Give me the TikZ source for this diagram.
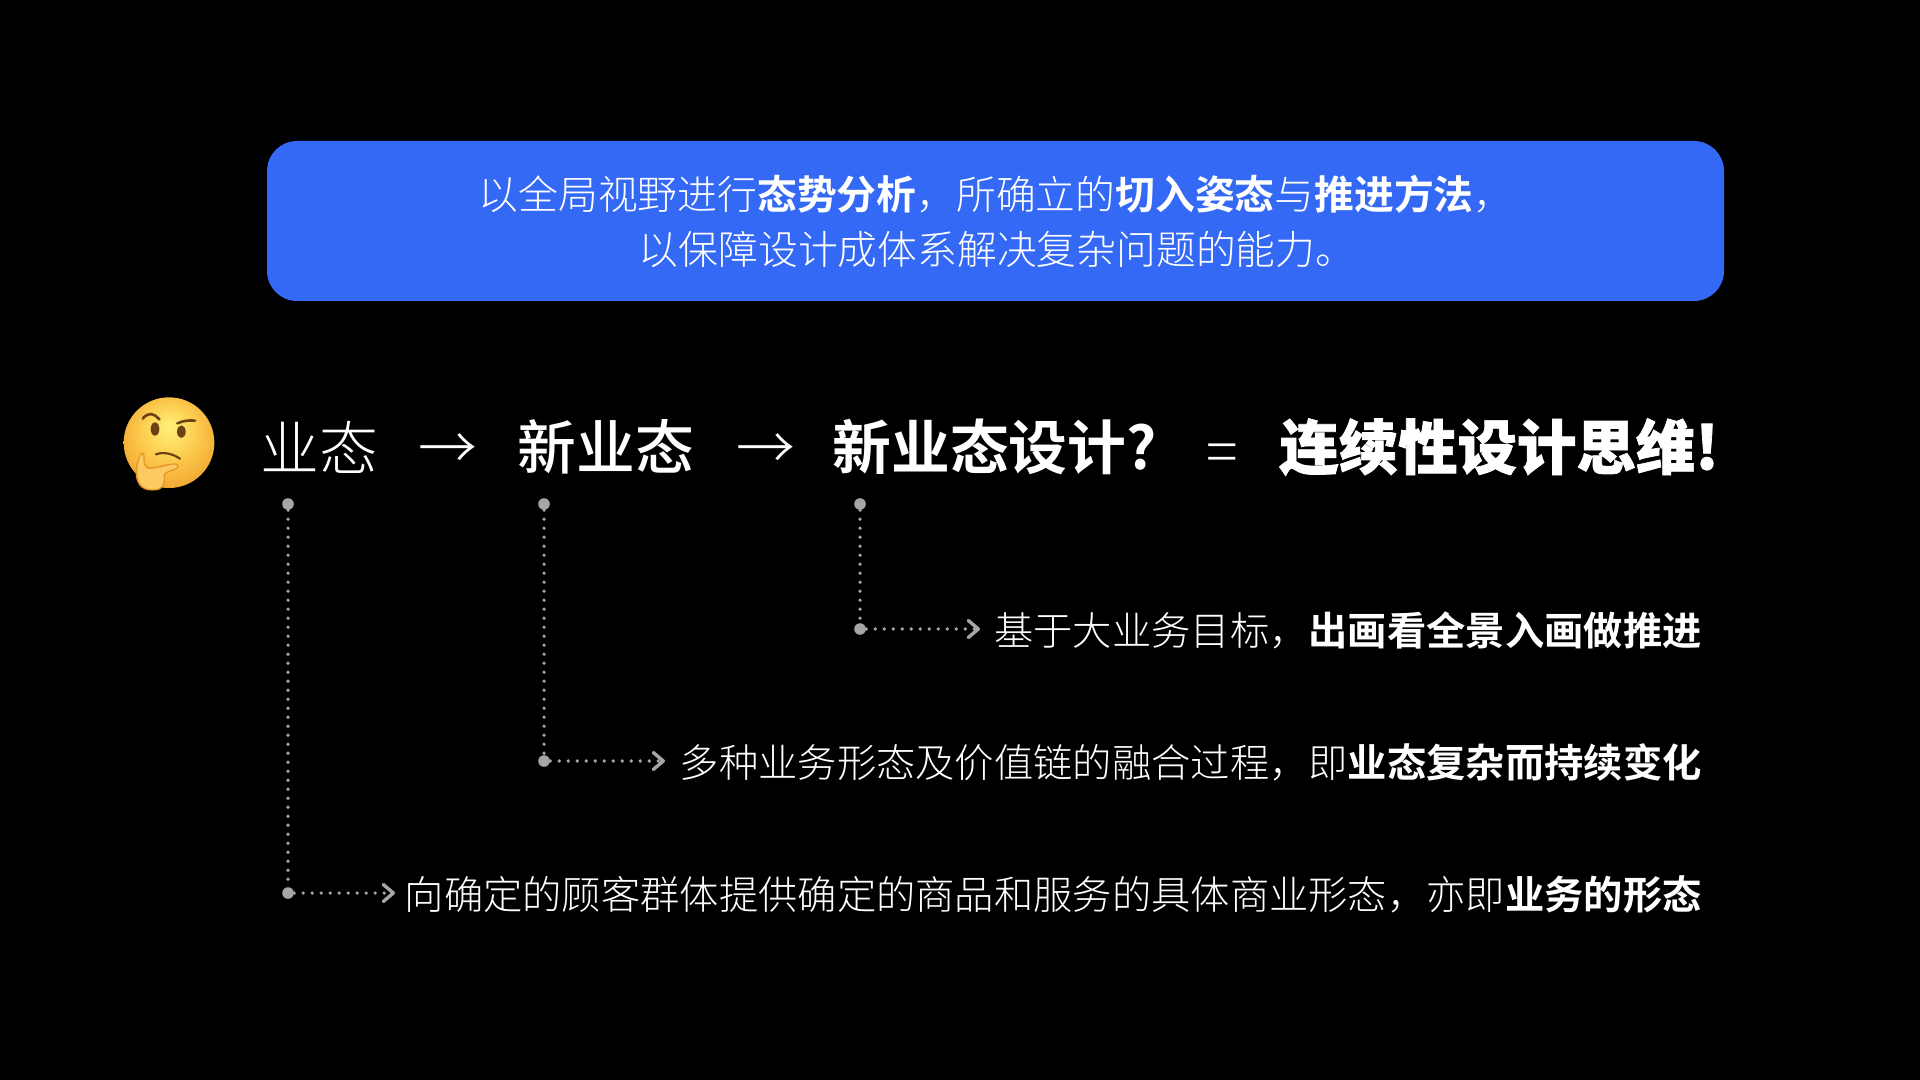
\documentclass[tikz,border=0pt]{standalone}
\usepackage{xcolor}
\usepackage{fontspec}
\usepackage{tikz}
\usetikzlibrary{positioning,arrows.meta,calc}
\setmainfont{Noto Sans CJK SC}[UprightFont=* Light,BoldFont=* Bold]
\newfontfamily\heavyfont{Noto Sans CJK SC Black}[FakeBold=1.2]
\newfontfamily\mediumfont{Noto Sans CJK SC Medium}
\definecolor{panel}{HTML}{3469F5}
\definecolor{leader}{HTML}{A6A6A6}
\definecolor{facehi}{HTML}{FFF27A}
\definecolor{facemid}{HTML}{FCCF52}
\definecolor{facelow}{HTML}{F6B63C}
\definecolor{faceedge}{HTML}{E8962A}
\definecolor{facedark}{HTML}{6B4216}
\definecolor{handc}{HTML}{FBCB62}
\pgfdeclareradialshading{emojiface}{\pgfpoint{0bp}{9bp}}{color(0bp)=(facehi); color(14bp)=(facemid); color(24bp)=(facelow); color(34bp)=(faceedge); color(50bp)=(faceedge)}
\tikzset{
  bullet/.style={circle,fill=leader,inner sep=0pt,minimum size=5.8pt},
  dotline/.style={leader,line width=1.8pt,line cap=round,dash pattern=on 0pt off 4.5pt},
  tipline/.style={dotline,-{Straight Barb[length=5pt,width=8.5pt,line width=1.7pt,round=false]}},
  boxtext/.style={text=white,font=\fontsize{19.9pt}{24pt}\selectfont,inner sep=0pt},
  rowtext/.style={text=white,font=\fontsize{29.4pt}{35pt}\selectfont,inner sep=0pt,anchor=west},
  subtext/.style={text=white,font=\fontsize{19.65pt}{24pt}\selectfont,inner sep=0pt,anchor=east},
}
\newcommand{\leadto}[5]{%
  \node[bullet] (#1top) at (#2,504) {};
  \node[bullet] (#1low) at (#2,#3) {};
  \coordinate (#1tip) at (#4,#3);
  \node[subtext] (#1text) at (1702,#3+1.5) {#5};
  \draw[dotline] (#1top) -- (#1low);
  \draw[tipline] (#1low) -- (#1tip);
}
\begin{document}
\begin{tikzpicture}[x=0.5pt,y=-0.5pt]
  \fill[black] (0,0) rectangle (1920,1080);
  \useasboundingbox (0,0) rectangle (1920,1080);
  % top panel
  \fill[panel,rounded corners=15pt] (267,141) rectangle (1724,301);
  \node[boxtext] (boxone) at (996,194) {以全局视野进行\textbf{态势分析}，所确立的\textbf{切入姿态}与\textbf{推进方法}，};
  \node[boxtext] (boxtwo) at (997,249) {以保障设计成体系解决复杂问题的能力。};
  % thinking face
  \begin{scope}[shift={(100,380)},x=0.1667pt,y=-0.1667pt]
    \path[shading=emojiface] (207,188) circle (136);
    \draw[facedark,line width=1.3pt,line cap=round] (128,116) .. controls (145,96) and (160,98) .. (178,118);
    \draw[facedark,line width=1.3pt,line cap=round] (232,130) .. controls (250,122) and (268,120) .. (285,122);
    \fill[facedark] (165,147) ellipse (13 and 20);
    \fill[facedark] (244,155) ellipse (13 and 19);
    \draw[facedark,line width=1.1pt,line cap=round] (168,223) .. controls (190,214) and (220,222) .. (240,236);
    \fill[faceedge] (108,290) .. controls (104,265) and (112,240) .. (122,220) .. controls (128,214) and (136,220) .. (134,232) .. controls (132,245) and (136,258) .. (146,262) .. controls (170,262) and (200,250) .. (228,250) .. controls (242,252) and (236,268) .. (224,270) .. controls (212,274) and (200,278) .. (195,284) .. controls (198,300) and (194,326) .. (175,330) .. controls (150,334) and (115,334) .. (108,290) -- cycle;
    \fill[handc] (113,288) .. controls (109,265) and (116,242) .. (123,225) .. controls (127,221) and (131,225) .. (130,233) .. controls (128,250) and (133,265) .. (146,267) .. controls (172,267) and (200,255) .. (227,254) .. controls (235,255) and (231,265) .. (222,266) .. controls (205,271) and (193,277) .. (190,284) .. controls (194,300) and (190,322) .. (173,326) .. controls (150,330) and (119,328) .. (113,288) -- cycle;
  \end{scope}
  % main row
  \node[rowtext] (yetai) at (260,447) {业态};
  \node[rowtext] (arrowone) at (418,452) {→};
  \node[rowtext] (xinyetai) at (517,447) {\mediumfont 新业态};
  \node[rowtext] (arrowtwo) at (736,452) {→};
  \node[rowtext] (sheji) at (832,447) {\textbf{新业态设计?}};
  \node[rowtext] (dengyu) at (1206,459) {=};
  \node[rowtext,font=\fontsize{29.7pt}{35pt}\selectfont] (lianxu) at (1279,447) {\heavyfont 连续性设计思维!};
  % leaders
  \leadto{ye}{288}{893}{395}{向确定的顾客群体提供确定的商品和服务的具体商业形态，亦即\textbf{业务的形态}}
  \leadto{xin}{544}{761}{665}{多种业务形态及价值链的融合过程，即\textbf{业态复杂而持续变化}}
  \leadto{she}{860}{629}{980}{基于大业务目标，\textbf{出画看全景入画做推进}}
\end{tikzpicture}
\end{document}
